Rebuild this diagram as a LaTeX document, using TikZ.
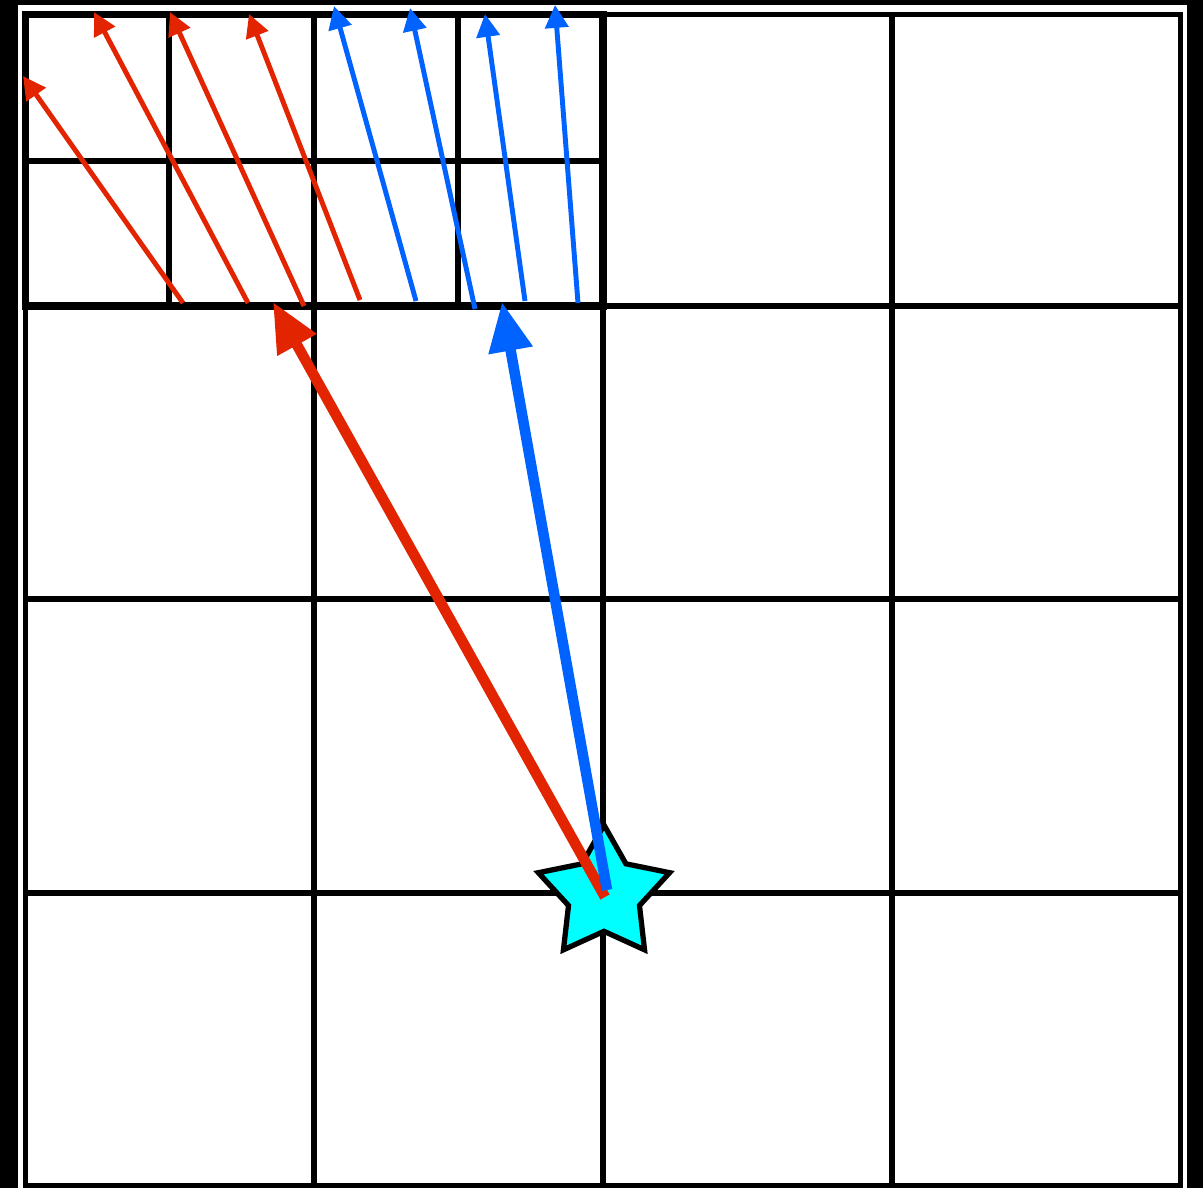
\documentclass[tikz,border=0pt]{standalone}
\usepackage{tikz}
\usetikzlibrary{arrows.meta,shapes.geometric}

\definecolor{arrred}{RGB}{227,36,0}
\definecolor{arrblue}{RGB}{0,98,255}
\definecolor{srccyan}{RGB}{0,255,255}

\begin{document}
\begin{tikzpicture}[
  gridline/.style={line width=1.6pt},
  thickline/.style={line width=2pt},
  redarrow/.style={-{Triangle[length=6.5pt,width=6.5pt]}, arrred, line width=1.4pt},
  bluearrow/.style={-{Triangle[length=6.5pt,width=6.5pt]}, arrblue, line width=1.4pt},
  bigred/.style={-{Triangle[length=14pt,width=12pt]}, arrred, line width=3pt},
  bigblue/.style={-{Triangle[length=14pt,width=12pt]}, arrblue, line width=3pt}
]
% background and frame
\fill[black] (0,0) rectangle (12.03,11.88);
\useasboundingbox (0,0) rectangle (12.03,11.88);
\fill[white] (0.18,0) rectangle (11.87,11.83);

% coarse grid
\draw[gridline] (0.255,0.025) rectangle (11.805,11.735);
\draw[gridline] (3.14,0.025) -- (3.14,8.82);
\draw[gridline] (6.03,0.025) -- (6.03,11.735);
\draw[gridline] (8.92,0.025) -- (8.92,11.735);
\draw[gridline] (0.255,2.95) -- (11.805,2.95);
\draw[gridline] (0.255,5.89) -- (11.805,5.89);
\draw[gridline] (6.03,8.82) -- (11.805,8.82);

% refined quadrant
\draw[thickline] (0.255,8.82) rectangle (6.03,11.735);
\draw[gridline] (1.69,8.82) -- (1.69,11.735);
\draw[gridline] (3.14,8.82) -- (3.14,11.735);
\draw[gridline] (4.58,8.82) -- (4.58,11.735);
\draw[gridline] (0.255,10.27) -- (6.03,10.27);

% source
\node (src) at (6.04,2.94) [star, star points=5, star point ratio=1.85,
  minimum size=1.38cm, inner sep=0pt, fill=srccyan, draw=black, line width=1.5pt] {};

% arrow ends
\coordinate (r1s) at (1.83,8.85);  \coordinate (r1e) at (0.23,11.12);
\coordinate (r2s) at (2.48,8.85);  \coordinate (r2e) at (0.94,11.76);
\coordinate (r3s) at (3.04,8.82);  \coordinate (r3e) at (1.70,11.76);
\coordinate (r4s) at (3.60,8.88);  \coordinate (r4e) at (2.49,11.74);
\coordinate (b1s) at (4.16,8.87);  \coordinate (b1e) at (3.34,11.82);
\coordinate (b2s) at (4.75,8.79);  \coordinate (b2e) at (4.10,11.80);
\coordinate (b3s) at (5.25,8.87);  \coordinate (b3e) at (4.85,11.74);
\coordinate (b4s) at (5.78,8.85);  \coordinate (b4e) at (5.55,11.83);
\coordinate (rs) at (6.05,2.91);   \coordinate (re) at (2.73,8.86);
\coordinate (bs) at (6.07,2.98);   \coordinate (be) at (5.02,8.86);

\draw[redarrow] (r1s) -- (r1e);
\draw[redarrow] (r2s) -- (r2e);
\draw[redarrow] (r3s) -- (r3e);
\draw[redarrow] (r4s) -- (r4e);
\draw[bluearrow] (b1s) -- (b1e);
\draw[bluearrow] (b2s) -- (b2e);
\draw[bluearrow] (b3s) -- (b3e);
\draw[bluearrow] (b4s) -- (b4e);

\draw[bigred] (rs) -- (re);
\draw[bigblue] (bs) -- (be);
\end{tikzpicture}
\end{document}
